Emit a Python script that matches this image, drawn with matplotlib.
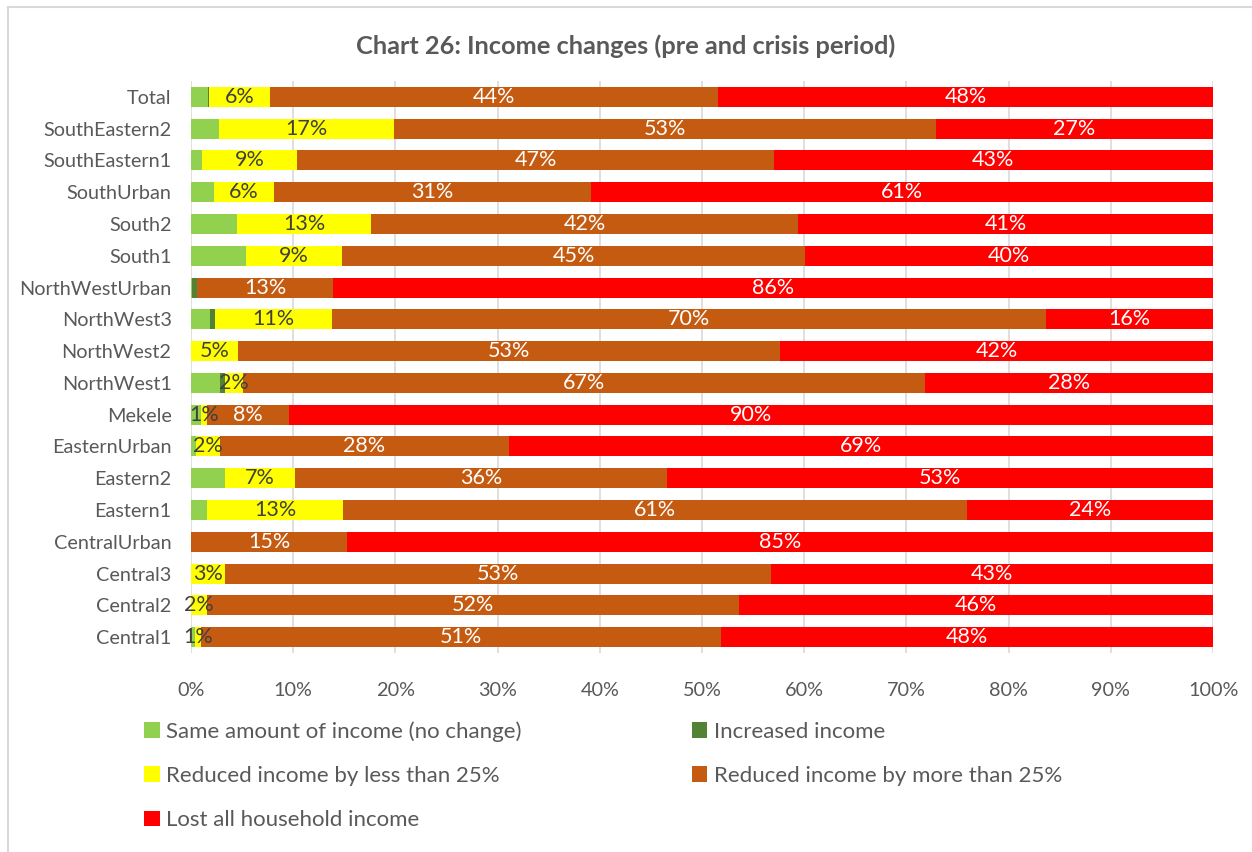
"""Chart 26: income changes, pre and crisis period (stacked 100% bars)."""

import matplotlib

matplotlib.use("Agg")

import matplotlib.pyplot as plt
import numpy as np
from matplotlib.lines import Line2D
from matplotlib.patches import Patch

# display order, top to bottom
regions = [
    "Total", "SouthEastern2", "SouthEastern1", "SouthUrban", "South2", "South1",
    "NorthWestUrban", "NorthWest3", "NorthWest2", "NorthWest1", "Mekele",
    "EasternUrban", "Eastern2", "Eastern1", "CentralUrban", "Central3",
    "Central2", "Central1",
]
same_income = [1.7, 2.7, 1.1, 2.25, 4.5, 5.4, 0.1, 1.9, 0.0, 2.8, 1.0, 0.5, 3.3, 1.6, 0.0, 0.0, 0.0, 0.4]
increased = [0.1, 0.0, 0.0, 0.0, 0.0, 0.0, 0.5, 0.45, 0.0, 0.55, 0.0, 0.0, 0.0, 0.0, 0.0, 0.0, 0.0, 0.0]
reduced_less_25 = [5.9, 17.2, 9.3, 5.85, 13.1, 9.4, 0.0, 11.4, 4.6, 1.7, 0.6, 2.3, 6.9, 13.3, 0.0, 3.3, 1.6, 0.55]
reduced_more_25 = [43.9, 53.0, 46.6, 31.0, 41.8, 45.3, 13.3, 69.9, 53.0, 66.8, 8.0, 28.3, 36.4, 61.0, 15.3, 53.4, 52.0, 50.9]
lost_all = [48.4, 27.1, 43.0, 60.9, 40.6, 39.9, 86.1, 16.4, 42.4, 28.1, 90.4, 68.9, 53.4, 24.1, 84.7, 43.3, 46.4, 48.2]

series_names = [
    "Same amount of income (no change)",
    "Increased income",
    "Reduced income by less than 25%",
    "Reduced income by more than 25%",
    "Lost all household income",
]
colors = ["#92D050", "#548235", "#FFFF00", "#C55A11", "#FF0000"]
label_colors = [None, None, "#404040", "white", "white"]

TEXT = "#595959"
plt.rcParams["font.family"] = ["Lato", "DejaVu Sans"]

fig = plt.figure(figsize=(12.52, 8.52), dpi=100)
ax = fig.add_axes([0.1526, 0.2336, 0.8163, 0.6713])

y = np.arange(len(regions))
left = np.zeros(len(regions))
all_series = [same_income, increased, reduced_less_25, reduced_more_25, lost_all]
for values, color, lab_color in zip(all_series, colors, label_colors):
    vals = np.array(values)
    ax.barh(y, vals, left=left, height=0.63, color=color, zorder=3)
    if lab_color is not None:
        for yi, (l, v) in enumerate(zip(left, vals)):
            if v >= 0.5:
                ax.text(l + v / 2, yi, f"{v:.0f}%", ha="center", va="center",
                        fontsize=15.5, color=lab_color, zorder=4)
    left = left + vals

ax.set_xlim(0, 100)
ax.set_ylim(len(regions) - 0.5, -0.5)
ax.set_xticks(np.arange(0, 101, 10))
ax.set_xticklabels([f"{t}%" for t in range(0, 101, 10)])
ax.set_yticks(y)
ax.set_yticklabels(regions)
ax.tick_params(axis="both", length=0, labelsize=14.3, colors=TEXT)
ax.tick_params(axis="x", pad=21)
ax.tick_params(axis="y", pad=14)
ax.grid(axis="x", color="#D9D9D9", linewidth=1.2, zorder=0)
for spine in ax.spines.values():
    spine.set_visible(False)

fig.text(0.5, 0.946, "Chart 26: Income changes (pre and crisis period)", ha="center", va="center",
         fontsize=18.3, fontweight="bold", color=TEXT)

handles = [Patch(facecolor=c, edgecolor="none") for c in colors]
order = [0, 2, 4, 1, 3]
fig.legend([handles[i] for i in order], [series_names[i] for i in order],
           loc="upper left", bbox_to_anchor=(0.115, 0.1538), bbox_transform=fig.transFigure,
           ncol=2, frameon=False, fontsize=16, labelcolor=TEXT,
           handlelength=0.7, handleheight=0.7, handletextpad=0.3,
           labelspacing=1.1, columnspacing=7.65, borderpad=0, borderaxespad=0)

# light chart-area border (top and left edges visible)
fig.add_artist(Line2D([8 / 1252, 8 / 1252], [0, 1 - 7 / 852], transform=fig.transFigure,
                      color="#D9D9D9", linewidth=1.5))
fig.add_artist(Line2D([8 / 1252, 1], [1 - 7 / 852, 1 - 7 / 852], transform=fig.transFigure,
                      color="#D9D9D9", linewidth=1.5))

fig.savefig("out.png", dpi=100)
